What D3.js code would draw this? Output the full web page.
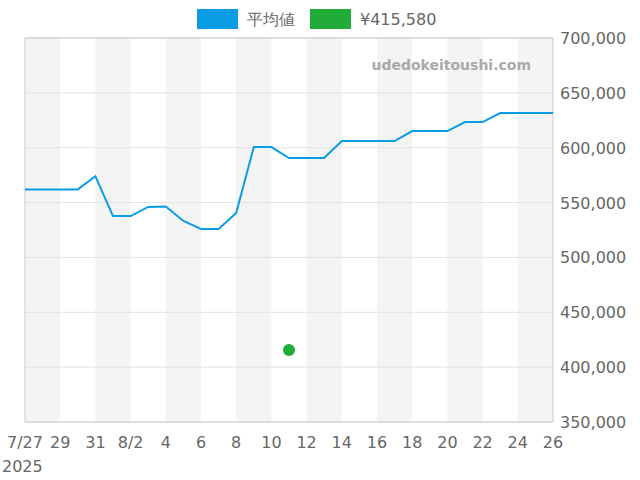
<!DOCTYPE html>
<html><head><meta charset="utf-8">
<script src="https://cdn.jsdelivr.net/npm/d3@7"></script>
<style>body{margin:0;background:#fff;font-family:"DejaVu Sans",sans-serif}</style>
</head><body><div id="chart"></div>
<script>
// daily average price, 2025-07-27 .. 2025-08-26
const avgValues = [562000, 562000, 562000, 562000, 574000, 537700, 537700, 546000, 546500, 533200,
  526000, 526000, 540500, 600600, 600600, 590600, 590600, 590600, 606100, 606100,
  606100, 606100, 615200, 615200, 615200, 623400, 623400, 631600, 631600, 631600, 631600];
const pointDay = '2025-08-11';
const pointValue = 415580;
const yTicks = [350000, 400000, 450000, 500000, 550000, 600000, 650000, 700000];
const legendLabels = ['平均値', '¥415,580'];

const parse = d3.timeParse('%Y-%m-%d');
const start = parse('2025-07-27');
const dates = avgValues.map((v, i) => d3.timeDay.offset(start, i));

const W = 640, H = 480, m = {l: 25, r: 87, t: 38, b: 58};
const svg = d3.select('#chart').append('svg').attr('width', W).attr('height', H);
const x = d3.scaleTime().domain([start, dates[dates.length - 1]]).range([m.l, W - m.r]);
const y = d3.scaleLinear().domain([350000, 700000]).range([H - m.b, m.t]);

// alternating bands, 2 days each
for (let i = 0; i < 30; i += 4) {
  svg.append('rect').attr('x', x(d3.timeDay.offset(start, i))).attr('y', m.t)
    .attr('width', x(d3.timeDay.offset(start, i + 2)) - x(d3.timeDay.offset(start, i)))
    .attr('height', H - m.b - m.t).attr('fill', '#f4f4f4');
}
svg.append('g').selectAll('line').data(yTicks).join('line')
  .attr('x1', m.l).attr('x2', W - m.r).attr('y1', d => y(d)).attr('y2', d => y(d))
  .attr('stroke', '#e2e2e2');
svg.append('rect').attr('x', m.l).attr('y', m.t).attr('width', W - m.r - m.l)
  .attr('height', H - m.b - m.t).attr('fill', 'none').attr('stroke', '#ccc');

svg.append('text').attr('x', 531).attr('y', 70).attr('text-anchor', 'end')
  .attr('font-size', 14).attr('font-weight', 'bold').attr('fill', '#aaa').text('udedokeitoushi.com');

// right axis
svg.append('g').selectAll('text').data(yTicks).join('text')
  .attr('x', 560).attr('y', d => y(d) + 6).attr('font-size', 16).attr('fill', '#666')
  .text(d => d3.format(',')(d));

// x ticks
const xt = d3.range(0, 31, 2).map(i => d3.timeDay.offset(start, i));
svg.append('g').selectAll('text').data(xt).join('text')
  .attr('x', d => x(d)).attr('y', H - m.b + 26).attr('text-anchor', 'middle')
  .attr('font-size', 16).attr('fill', '#666')
  .text((d, i) => i === 0 || d.getDate() === 2 && d.getMonth() === 7 ? d3.timeFormat('%-m/%-d')(d) : d.getDate());
svg.append('text').attr('x', 2).attr('y', H - m.b + 50).attr('font-size', 16).attr('fill', '#666').text('2025');

svg.append('path').datum(avgValues)
  .attr('d', d3.line().x((d, i) => x(dates[i])).y(d => y(d)))
  .attr('fill', 'none').attr('stroke', '#0a9de6').attr('stroke-width', 2);
svg.append('circle').attr('cx', x(parse(pointDay))).attr('cy', y(pointValue)).attr('r', 6).attr('fill', '#21ac38');

// legend
const lg = svg.append('g');
[[197, '#0a9de6'], [310, '#21ac38']].forEach(([lx, c], i) => {
  lg.append('rect').attr('x', lx).attr('y', 9).attr('width', 41).attr('height', 20).attr('fill', c);
  lg.append('text').attr('x', lx + 50).attr('y', 25).attr('font-size', 16).attr('fill', '#666').text(legendLabels[i]);
});
</script></body></html>
